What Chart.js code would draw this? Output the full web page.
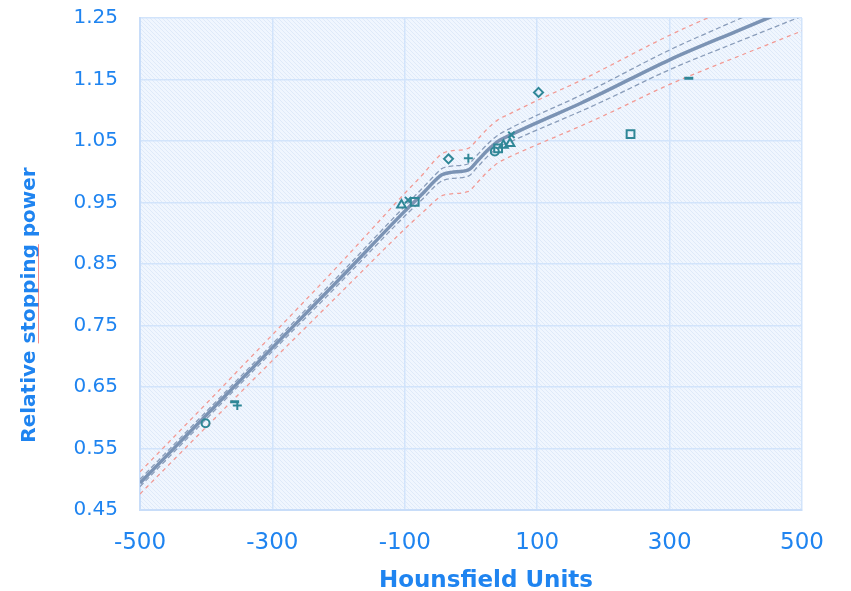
<!DOCTYPE html>
<html>
<head>
<meta charset="utf-8">
<script src="https://cdn.jsdelivr.net/npm/chart.js@4.4.1/dist/chart.umd.min.js"></script>
<style>
  html, body { margin: 0; padding: 0; background: #fff; }
  #wrap { width: 851px; height: 591px; }
</style>
</head>
<body>
<div id="wrap"><canvas id="myChart" width="851" height="591"></canvas></div>
<script>
// --- DATA ---
// fitted calibration curve + bands (Hounsfield units -> relative stopping power)
const fitHU   = [-500, -400, -300, -200, -100, -70, -55, -44, -30, -4, 10, 25, 40, 60, 100, 165, 200, 300, 400, 500];
const fitRSP  = [0.494, 0.604, 0.714, 0.824, 0.936, 0.968, 0.985, 0.995, 0.999, 1.003, 1.018, 1.035, 1.049, 1.060, 1.080, 1.111, 1.129, 1.182, 1.228, 1.273];
const ciUpper = [0.500, 0.610, 0.720, 0.831, 0.944, 0.977, 0.994, 1.005, 1.009, 1.013, 1.028, 1.045, 1.059, 1.071, 1.092, 1.124, 1.143, 1.198, 1.246, 1.293];
const ciLower = [0.488, 0.598, 0.708, 0.817, 0.928, 0.959, 0.976, 0.985, 0.989, 0.993, 1.008, 1.025, 1.039, 1.049, 1.068, 1.098, 1.115, 1.166, 1.210, 1.253];
const piUpper = [0.512, 0.623, 0.735, 0.848, 0.965, 0.999, 1.018, 1.029, 1.034, 1.038, 1.053, 1.070, 1.084, 1.095, 1.116, 1.148, 1.167, 1.222, 1.270, 1.317];
const piLower = [0.476, 0.585, 0.693, 0.800, 0.907, 0.937, 0.952, 0.961, 0.964, 0.968, 0.983, 1.000, 1.014, 1.025, 1.044, 1.074, 1.091, 1.142, 1.186, 1.229];

// measured points, one pair of arrays per marker
const circleHU  = [-401, 36];        const circleRSP  = [0.591, 1.033];
const plusHU    = [-353, -4];        const plusRSP    = [0.620, 1.022];
const dashHU    = [-357, 329];       const dashRSP    = [0.626, 1.152];
const triHU     = [-105, 49, 59];    const triRSP     = [0.946, 1.043, 1.046];
const xHU       = [-95, 61];         const xRSP       = [0.954, 1.060];
const squareHU  = [-85, 41, 241];    const squareRSP  = [0.951, 1.038, 1.061];
const diamondHU = [-34, 102];        const diamondRSP = [1.021, 1.129];

const xTicks = [-500, -300, -100, 100, 300, 500];
const yTicks = [0.45, 0.55, 0.65, 0.75, 0.85, 0.95, 1.05, 1.15, 1.25];

// --- STYLE ---
const blueText = '#1f84f0';
const teal = '#2f8797';
const gridBlue = '#d2e4fb';

function pts(xs, ys) {
    return xs.map((x, i) => ({ x: x, y: ys[i] }));
}

function markerSet(xs, ys, style, r, bw) {
    return {
        data: pts(xs, ys),
        pointStyle: style,
        pointRadius: r,
        pointBorderWidth: bw || 2,
        pointBorderColor: teal,
        pointBackgroundColor: 'rgba(0,0,0,0)',
        showLine: false
    };
}

function lineSet(ys, color, width, dash) {
    return {
        data: pts(fitHU, ys),
        borderColor: color,
        borderWidth: width,
        borderDash: dash,
        pointRadius: 0,
        showLine: true,
        cubicInterpolationMode: 'monotone'
    };
}

// hatched plot background
function makeHatch(ctx) {
    const c = document.createElement('canvas');
    c.width = 4; c.height = 4;
    const g = c.getContext('2d');
    g.fillStyle = '#f0f6fe';
    g.fillRect(0, 0, 4, 4);
    g.strokeStyle = '#dfeaf9';
    g.lineWidth = 1;
    g.beginPath();
    g.moveTo(0, 0); g.lineTo(4, 4);
    g.moveTo(-1, 3); g.lineTo(1, 5);
    g.moveTo(3, -1); g.lineTo(5, 1);
    g.stroke();
    return ctx.createPattern(c, 'repeat');
}

const bgPlugin = {
    id: 'bgPlugin',
    beforeDraw(chart) {
        const { ctx, chartArea: a } = chart;
        ctx.save();
        ctx.fillStyle = makeHatch(ctx);
        ctx.fillRect(a.left, a.top, a.right - a.left, a.bottom - a.top);
        ctx.restore();
    }
};

// axis titles
const titlePlugin = {
    id: 'titlePlugin',
    afterDraw(chart) {
        const ctx = chart.ctx;
        ctx.save();
        ctx.fillStyle = blueText;
        ctx.font = 'bold 23px "DejaVu Sans"';
        ctx.textAlign = 'center';
        ctx.textBaseline = 'alphabetic';
        ctx.fillText('Hounsfield Units', 486, 587);

        ctx.translate(35, 305);
        ctx.rotate(-Math.PI / 2);
        ctx.font = 'bold 20px "DejaVu Sans"';
        const label = 'Relative stopping power';
        const full = ctx.measureText(label).width;
        ctx.fillText(label, 0, 0);
        // spell-check underline under "stopping"
        const start = -full / 2 + ctx.measureText('Relative ').width;
        const w = ctx.measureText('stopping').width;
        ctx.strokeStyle = 'rgba(240,110,110,0.8)';
        ctx.lineWidth = 1;
        ctx.beginPath();
        ctx.moveTo(start, 3.5);
        ctx.lineTo(start + w, 3.5);
        ctx.stroke();
        ctx.restore();
    }
};

const ctx = document.getElementById('myChart').getContext('2d');
const rspChart = new Chart(ctx, {
    type: 'scatter',
    data: {
        datasets: [
            markerSet(circleHU, circleRSP, 'circle', 4),
            markerSet(plusHU, plusRSP, 'cross', 4.5),
            markerSet(dashHU, dashRSP, 'line', 4.5, 3),
            markerSet(triHU, triRSP, 'triangle', 5),
            markerSet(xHU, xRSP, 'crossRot', 4.5),
            markerSet(squareHU, squareRSP, 'rect', 5.5),
            markerSet(diamondHU, diamondRSP, 'rectRot', 4.5),
            lineSet(fitRSP, '#7b93b4', 3.5, []),
            lineSet(ciUpper, '#8a9dba', 1.3, [5, 3]),
            lineSet(ciLower, '#8a9dba', 1.3, [5, 3]),
            lineSet(piUpper, '#f29a94', 1.3, [4, 4]),
            lineSet(piLower, '#f29a94', 1.3, [4, 4])
        ]
    },
    options: {
        responsive: false,
        animation: false,
        layout: { padding: { top: 18, right: 49, left: 0, bottom: 0 } },
        plugins: { legend: { display: false }, tooltip: { enabled: false } },
        scales: {
            x: {
                type: 'linear', min: -500, max: 500,
                afterBuildTicks: s => { s.ticks = xTicks.map(v => ({ value: v })); },
                afterFit: s => { s.height = 81; s.paddingLeft = 0; s.paddingRight = 0; },
                ticks: {
                    color: blueText, padding: 19,
                    font: { family: '"DejaVu Sans"', size: 23 },
                    callback: v => String(v)
                },
                grid: { color: gridBlue, lineWidth: 1.5, drawTicks: false },
                border: { display: true, color: '#c8ddf9', width: 2 }
            },
            y: {
                type: 'linear', min: 0.45, max: 1.25,
                afterBuildTicks: s => { s.ticks = yTicks.map(v => ({ value: v })); },
                afterFit: s => { s.width = 140; s.paddingTop = 0; s.paddingBottom = 0; },
                ticks: {
                    color: blueText, padding: 22,
                    font: { family: '"DejaVu Sans"', size: 20 },
                    callback: v => Number(v).toFixed(2)
                },
                grid: { color: gridBlue, lineWidth: 1.5, drawTicks: false },
                border: { display: true, color: '#c8ddf9', width: 2 }
            }
        }
    },
    plugins: [bgPlugin, titlePlugin]
});
</script>
</body>
</html>
